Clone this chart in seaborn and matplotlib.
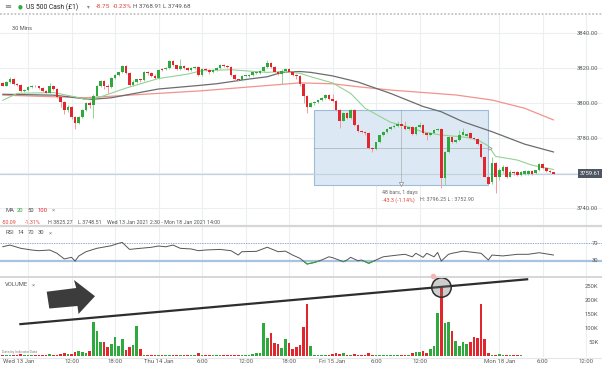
import numpy as np
import matplotlib
matplotlib.use("Agg")
import matplotlib.pyplot as plt
import seaborn as sns
from matplotlib.patches import Rectangle, Polygon
from matplotlib.lines import Line2D
from matplotlib.transforms import blended_transform_factory as blend

# ---------------- data (30-min bars; bar 0 = Wed 13 Jan 00:00, weekend removed) ----------------
bars = list(range(5, 158))

opens = [
    3811.5, 3810, 3812, 3814, 3811, 3810.5, 3807, 3807.5, 3809, 3810,
    3809.5, 3808.5, 3807, 3806, 3810, 3808, 3803.5, 3800.5, 3796, 3798,
    3792, 3788.5, 3792, 3796, 3800, 3799, 3804, 3810, 3812.5, 3810,
    3809, 3814.5, 3816, 3817.5, 3821, 3817, 3810.5, 3812, 3813.5, 3813,
    3818, 3817, 3815.5, 3814.5, 3819.5, 3819.5, 3820, 3824, 3821.5, 3819.5,
    3821, 3820, 3819, 3820, 3820.5, 3816, 3819.5, 3819, 3817.5, 3819,
    3820, 3822, 3821, 3820.5, 3816, 3813.5, 3813, 3815.5, 3815.5, 3816,
    3817, 3817, 3818.5, 3820.5, 3823, 3820.5, 3818, 3816.5, 3818.5, 3819.5,
    3818, 3816, 3815.5, 3811, 3804, 3798, 3800, 3800.5, 3801.5, 3803,
    3804.5, 3802.5, 3801, 3796, 3790, 3794.5, 3791.5, 3796, 3787.5, 3784,
    3783.5, 3783, 3774.5, 3773.5, 3777.5, 3781.5, 3783.5, 3785, 3786.5, 3787,
    3788, 3787, 3785, 3786.5, 3782.5, 3786.5, 3787.5, 3783, 3781.5, 3783,
    3784.5, 3785, 3757, 3772, 3780.5, 3777.5, 3779, 3782, 3781, 3783,
    3780, 3779.5, 3776.5, 3769, 3758, 3755, 3766, 3758, 3761, 3763.5,
    3758, 3760.5, 3760.5, 3759, 3759.5, 3759.5, 3761, 3760, 3761.5, 3765,
    3763, 3761, 3760.3]
highs = [
    3812, 3812.5, 3815, 3814.5, 3811.5, 3811, 3808, 3809.5, 3810.5, 3810.5,
    3810, 3809, 3807.5, 3811.5, 3810.5, 3808.5, 3804, 3801, 3799, 3798.5,
    3792.5, 3792.5, 3796.5, 3800.5, 3801, 3805, 3810.5, 3813, 3813, 3811,
    3815, 3816.5, 3818, 3822, 3822, 3817.5, 3813, 3814, 3814, 3818.5,
    3818.5, 3817.5, 3816.5, 3819.5, 3820, 3820.5, 3824.5, 3824.5, 3822, 3825.27,
    3821.5, 3820.5, 3820.5, 3821, 3821, 3820, 3820, 3819.5, 3819.5, 3820.5,
    3822.5, 3822.5, 3821.5, 3821, 3816.5, 3814, 3816, 3816, 3816.5, 3818,
    3818, 3819, 3821, 3824.5, 3823.5, 3821, 3818.5, 3819.5, 3820, 3820,
    3818.5, 3816.5, 3816, 3811.5, 3804.5, 3800.5, 3801, 3802, 3803.5, 3805,
    3805, 3805, 3801.5, 3796.5, 3795, 3795, 3796.5, 3796.5, 3788, 3784.5,
    3784, 3783.5, 3775, 3778, 3782, 3784, 3785.5, 3787, 3788, 3790,
    3788.5, 3790, 3787, 3787, 3787, 3789, 3788, 3783.5, 3783.5, 3785,
    3786, 3785.5, 3772.5, 3781, 3781, 3779.5, 3784.5, 3785.5, 3783, 3783.5,
    3780.5, 3780, 3777, 3769.5, 3758.5, 3768.91, 3766.5, 3763, 3764.5, 3764,
    3761.5, 3761, 3761, 3761, 3761.5, 3761.5, 3761.5, 3762, 3765.5, 3765.5,
    3763.5, 3761.5, 3760.5]
lows = [
    3809.5, 3809.5, 3811.5, 3810.5, 3810, 3806.5, 3806.5, 3807, 3808.5, 3809,
    3808, 3806.5, 3805.5, 3805.5, 3807.5, 3803, 3798, 3793.5, 3795, 3791,
    3785, 3788, 3791.5, 3795.5, 3797, 3791.5, 3803.5, 3809, 3808, 3806,
    3808.5, 3813.5, 3815.5, 3817, 3816.5, 3810, 3810, 3811.5, 3812, 3812.5,
    3816, 3815, 3814, 3814, 3818.5, 3819, 3819.5, 3821, 3819, 3819,
    3819.5, 3818.5, 3818.5, 3819.5, 3815.5, 3815.5, 3818.5, 3816.5, 3817, 3818.5,
    3819.5, 3820.5, 3820, 3815.5, 3813, 3812.5, 3812.5, 3815, 3815, 3815.5,
    3816.5, 3816.5, 3818, 3820, 3820, 3817.5, 3816, 3811, 3818, 3817.5,
    3815.5, 3814, 3810, 3800, 3794.5, 3797.5, 3799, 3800, 3801, 3802.5,
    3802, 3800.5, 3795.5, 3786, 3789.5, 3791, 3791, 3787, 3783.5, 3783,
    3782, 3774, 3772, 3773, 3777, 3781, 3783, 3784.5, 3786, 3786.5,
    3786, 3784.5, 3784.5, 3782, 3782, 3786, 3782.5, 3779, 3781, 3782.5,
    3784, 3751.3, 3753, 3771.5, 3777, 3777, 3778.5, 3781.5, 3780.5, 3779.5,
    3779, 3776, 3768.5, 3757.5, 3752.9, 3754, 3748.51, 3756, 3760, 3757,
    3757.5, 3759, 3758.5, 3758.5, 3759, 3759, 3759, 3759.5, 3761, 3762.5,
    3760.5, 3760, 3759.3]
closes = [
    3810, 3812, 3814, 3811, 3810.5, 3807, 3807.5, 3809, 3810, 3809.5,
    3808.5, 3807, 3806, 3810, 3808, 3803.5, 3800.5, 3796, 3798, 3792,
    3788.5, 3792, 3796, 3800, 3799, 3804, 3810, 3812.5, 3810, 3809,
    3814.5, 3816, 3817.5, 3821, 3817, 3810.5, 3812, 3813.5, 3813, 3818,
    3817, 3815.5, 3814.5, 3819, 3819, 3820, 3824, 3821.5, 3819.5, 3821,
    3820, 3819, 3820, 3820.5, 3816, 3819.5, 3819, 3817.5, 3819, 3820,
    3822, 3821, 3820.5, 3816, 3813.5, 3813, 3815.5, 3815.5, 3816, 3817.5,
    3817.5, 3818.5, 3820.5, 3823, 3820.5, 3818, 3816.5, 3818.5, 3819.5, 3818,
    3816, 3815.5, 3811, 3804, 3798, 3800, 3800.5, 3801.5, 3803, 3804.5,
    3802.5, 3801, 3796, 3790, 3794.5, 3791.5, 3796, 3787.5, 3784, 3783.5,
    3783, 3774.5, 3773.5, 3777.5, 3781.5, 3783.5, 3785, 3786.5, 3787, 3788,
    3787, 3785, 3786.5, 3782.5, 3786.5, 3787.5, 3783, 3781.5, 3783, 3784.5,
    3785, 3757, 3772, 3780.5, 3777.5, 3779, 3782, 3783.5, 3782.5, 3780,
    3779.5, 3776.5, 3769, 3758, 3753.5, 3766, 3758, 3762, 3763.5, 3758,
    3760.5, 3760, 3759, 3760.5, 3761, 3761, 3759.5, 3761.5, 3765, 3763,
    3761, 3760.3, 3759.61]
volume_k = [
    5, 4, 6, 5, 3, 7, 4, 5, 6, 4,
    5, 6, 5, 7, 6, 6, 7, 12.6, 8, 9,
    16, 20, 16, 10, 18, 122, 90, 52, 52, 32,
    44, 70, 37, 61, 22, 34, 40, 109, 25, 5,
    3, 4, 5, 3, 6, 4, 5, 3, 4, 6,
    5, 4, 3, 5, 10, 4, 5, 3, 4, 5,
    4, 3, 5, 4, 6, 5, 4, 5, 6, 8,
    12, 12, 118, 67, 85, 46, 44, 31, 62, 46,
    26, 34, 40, 104, 187, 37, 5, 4, 5, 6,
    4, 8, 10, 9, 10, 5, 6, 7, 5, 4,
    5, 10, 6, 5, 6, 4, 5, 4, 5, 4,
    5, 6, 6, 12, 14, 15, 18, 12, 26, 37,
    157, 250, 118, 124, 92, 56, 37, 52, 44, 52,
    70, 64, 187, 61, 10, 6, 4, 7, 3, 5,
    4, 3, 4, 3, 0, 0, 0, 0, 0, 0,
    0, 0, 0]

ma20_bars = [5, 9, 19, 25, 28, 32, 39, 48, 56, 60, 68, 78, 82, 87, 90, 96, 101, 105, 112, 117,
             121, 126, 132, 136, 139, 141, 147, 151, 157]
ma20_vals = [3801.5, 3805.5, 3806, 3803.5, 3802, 3803.5, 3808.5, 3814, 3816.5, 3818.5, 3819, 3817.5,
             3818, 3817, 3815, 3811.5, 3805.5, 3797, 3789, 3786.3, 3783.5, 3781.7, 3780.6, 3779,
             3775.5, 3769.5, 3767.4, 3764.5, 3762]
ma50_bars = [5, 19, 23, 29, 35, 48, 59, 64, 73, 78, 82, 87, 90, 96, 103, 112, 121, 126, 132, 140, 149, 157]
ma50_vals = [3805, 3804.5, 3803.6, 3802, 3803, 3808, 3810, 3811, 3813.7, 3815, 3817.5, 3818, 3817.5,
             3815.5, 3812, 3805.5, 3798, 3795, 3789.3, 3783.6, 3776.5, 3772]
ma100_bars = [5, 28, 48, 60, 87, 96, 103, 112, 121, 130, 140, 149, 157]
ma100_vals = [3804.5, 3803, 3805.5, 3807, 3811.5, 3811, 3809.3, 3807.4, 3806, 3804.6, 3801.7, 3797, 3790.3]

rsi_bars = [5, 7, 10, 13, 15, 18, 20, 22, 24, 25, 26, 28, 31, 35, 37, 38, 40, 43, 46, 48, 50, 52, 54,
            57, 59, 61, 65, 68, 70, 71, 75, 78, 81, 83, 85, 87, 89, 91, 93, 95, 96, 99, 100, 101,
            103, 104, 106, 108, 110, 114, 116, 118, 119, 121, 122, 124, 125, 126, 128, 129, 132,
            135, 137, 139, 140, 143, 147, 150, 153, 157]
rsi_vals = [62, 66, 58.5, 54.6, 53, 54.6, 47, 34, 37.8, 29.3, 40.8, 50.7, 58.5, 64.5, 70, 72, 56,
            58.5, 60.8, 63.8, 62, 66, 58.5, 57, 53, 54.6, 56, 53, 43, 50.7, 51.5, 61, 50.7, 52, 43,
            35.5, 22.4, 26, 31.6, 39, 37, 27.7, 31.6, 37.8, 30, 31.6, 24, 31.6, 39, 43, 44.7, 39,
            47, 37.8, 47, 39, 49, 29.3, 44.7, 47, 52, 49, 47, 31.6, 43, 41, 44.7, 44.7, 48.4, 43]

price_ticks = [3740, 3760, 3780, 3800, 3820, 3840]
volume_ticks = [50, 100, 150, 200, 250]
time_tick_bars = [12, 24, 36, 48, 60, 72, 84, 96, 108, 120, 142, 154, 166]
time_tick_labels = ["", "12:00", "18:00", "Thu 14 Jan", "6:00", "12:00", "18:00",
                    "Fri 15 Jan", "6:00", "12:00", "Mon 18 Jan", "6:00", "12:00"]
first_label = "Wed 13 Jan"
last_price = 3759.61
measure_start, measure_end = 91, 139
measure_high, measure_low = 3796.25, 3752.90
trend_bars = [9.6, 150.0]
trend_vol = [115, 277]

# ---------------- style ----------------
sns.set_theme(style="white")
plt.rcParams["font.family"] = ["Roboto", "DejaVu Sans"]
GREEN, RED = "#2fa83e", "#e2262d"
GREEN_W, RED_W = "#8fd59a", "#f29a9d"
GRID = "#eceef1"
TXT = "#5a5a5a"

W, H = 602, 369
fig = plt.figure(figsize=(W / 100, H / 100), dpi=100)
fig.patch.set_facecolor("white")

def fx(px):
    return px / W

def fy(py):
    return 1 - py / H

ax_p = fig.add_axes([0, fy(225), 1, (225 - 15) / H])
ax_r = fig.add_axes([0, fy(277), 1, (277 - 227) / H])
ax_v = fig.add_axes([0, fy(357), 1, (357 - 278) / H])
XL = (15.5 / 3.625, 617.5 / 3.625)
for a in (ax_p, ax_r, ax_v):
    a.set_xlim(*XL)
    a.set_facecolor("white")
    for s in a.spines.values():
        s.set_visible(False)
    a.set_xticks([])
    a.set_yticks([])
    for tb in time_tick_bars:
        a.axvline(tb, color=GRID, lw=0.8, zorder=0)

ax_p.set_ylim(3730.29, 3850.29)
ax_r.set_ylim(-7.47, 107.5)
ax_v.set_ylim(-2.9, 281.3)

# price grid
for p in price_ticks:
    ax_p.axhline(p, color=GRID, lw=0.8, zorder=0)

tr_p = blend(ax_p.transAxes, ax_p.transData)
for p in price_ticks:
    if abs(p - last_price) < 5:
        continue  # hidden behind the last-price tag
    ax_p.text(0.994, p, f"{p:.2f}", transform=tr_p, ha="right", va="center", fontsize=4.2, color=TXT)

# measurement rectangle
ax_p.add_patch(Rectangle((measure_start, measure_low), measure_end - measure_start,
                         measure_high - measure_low, facecolor="#dce9f5", edgecolor="#9dbcdc",
                         lw=0.8, zorder=1))
mid_bar = (measure_start + measure_end) / 2
mid_p = (measure_high + measure_low) / 2
ax_p.plot([measure_start, measure_end], [mid_p, mid_p], ls=(0, (1.2, 1.2)), color="#888", lw=0.6, zorder=2)
ax_p.plot([mid_bar, mid_bar], [measure_low, measure_high], ls=(0, (1.2, 1.2)), color="#888", lw=0.6, zorder=2)
ax_p.plot([mid_bar], [measure_low + 1], marker="v", ms=3, mfc="white", mec="#888", mew=0.5, zorder=5)
ax_p.plot([measure_end + 0.5], [mid_p], marker=">", ms=2.5, mfc="white", mec="#888", mew=0.5, zorder=5)

# last price line
ax_p.axhline(last_price, color="#c3d2e2", lw=0.9, zorder=1)

# moving averages
sns.lineplot(x=ma100_bars, y=ma100_vals, ax=ax_p, color="#f2938c", linewidth=0.9, zorder=3)
sns.lineplot(x=ma50_bars, y=ma50_vals, ax=ax_p, color="#6c6c6c", linewidth=0.9, zorder=3)
sns.lineplot(x=ma20_bars, y=ma20_vals, ax=ax_p, color="#93d293", linewidth=0.8, zorder=3)

# candles
o = np.array(opens)
h = np.array(highs)
l = np.array(lows)
c = np.array(closes)
b = np.array(bars)
up = c >= o
ax_p.vlines(b, l, h, colors=np.where(up, GREEN_W, RED_W), lw=0.7, zorder=4)
ax_p.bar(b, np.maximum(np.abs(c - o), 0.4), bottom=np.minimum(o, c), width=0.72,
         color=np.where(up, GREEN, RED), linewidth=0, zorder=5)

ax_p.text(0.998, last_price, f"{last_price:.2f}", transform=tr_p, ha="right", va="center",
          fontsize=4.2, color="white",
          bbox=dict(boxstyle="square,pad=0.35", facecolor="#4d5862", edgecolor="none"), zorder=6)

# RSI
ax_r.axhline(70, color="#8fb0d6", lw=0.7, ls=(0, (1.5, 1)), zorder=1)
ax_r.axhline(30, color="#a9c3de", lw=1.6, zorder=1)
sns.lineplot(x=rsi_bars, y=rsi_vals, ax=ax_r, color="#555555", linewidth=0.7, zorder=3)
low_line, = ax_r.plot(rsi_bars, rsi_vals, color=GREEN, lw=0.8, zorder=4)
clip = Rectangle((XL[0], -20), XL[1] - XL[0], 50, transform=ax_r.transData, visible=False)
ax_r.add_patch(clip)
low_line.set_clip_path(clip)
tr_r = blend(ax_r.transAxes, ax_r.transData)
for lv in (70, 30):
    ax_r.text(0.994, lv, str(lv), transform=tr_r, ha="right", va="center", fontsize=4.2, color=TXT)

# Volume
vcol = np.where(up, GREEN, RED)
ax_v.bar(b, volume_k, width=0.72, color=vcol, linewidth=0, zorder=2)
tr_v = blend(ax_v.transAxes, ax_v.transData)
for vt in volume_ticks:
    ax_v.text(0.994, vt, f"{vt}K", transform=tr_v, ha="right", va="center", fontsize=4.2, color=TXT)
ax_v.plot(trend_bars, trend_vol, color="#2e2e2e", lw=1.6, zorder=4, solid_capstyle="butt")
imax = int(np.argmax(volume_k))
ax_v.plot([bars[imax]], [volume_k[imax]], marker="o", ms=14, mfc=(0.45, 0.45, 0.45, 0.35),
          mec="#2e2e2e", mew=1.1, zorder=5)

# x labels
tr_x = blend(ax_v.transData, ax_v.transAxes)
ax_v.text(bars[0], -0.055, first_label, transform=tr_x, ha="left", va="center", fontsize=4.3, color=TXT)
for tb, tl in zip(time_tick_bars, time_tick_labels):
    if tl:
        ax_v.text(tb, -0.055, tl, transform=tr_x, ha="center", va="center", fontsize=4.3, color=TXT)

# big arrow annotation
arrow_px = [(46.7, 291.7), (76.2, 288.0), (74.0, 280.0), (95.0, 296.2), (78.5, 314.0),
            (77.5, 306.0), (49.3, 308.5)]
fig.add_artist(Polygon([(fx(x), fy(y)) for x, y in arrow_px], closed=True,
                       transform=fig.transFigure, facecolor="#3c3c3c", edgecolor="none", zorder=10))

# separators
def hline(py, **kw):
    fig.add_artist(Line2D([0, 1], [fy(py), fy(py)], transform=fig.transFigure, **kw))

hline(14, color="#c4c4c4", lw=1.3, ls=(0, (1, 1)))
hline(225.7, color="#d6d6d6", lw=1.6)
hline(277.3, color="#d6d6d6", lw=1.4)
hline(357.5, color="#e6e6e6", lw=0.8)
fig.add_artist(Line2D([fx(433)], [fy(276)], transform=fig.transFigure, marker="o", ms=3,
                      mfc="#f6b5b0", mec="#f6b5b0", zorder=11))

# texts
def t(px, py, s, color=TXT, size=4.3, **kw):
    fig.text(fx(px), fy(py), s, color=color, fontsize=size, ha="left", va="center", **kw)

t(4, 7, "\u2261", color="#777", size=6)
t(18, 7, "\u25cf", color="#2fae3e", size=4)
t(26, 7, "US 500 Cash (\u00a31)", color="#222", size=4.9)
t(87, 7, "\u25be", color="#888", size=4)
t(96, 7, "-8.75", color="#e5453d", size=4.6)
t(113, 7, "-0.23%", color="#e5453d", size=4.6)
t(133, 7, "H 3768.91 L 3749.68", color="#555", size=4.5)
t(12, 29, "30 Mins", color="#555", size=4.1)

t(5, 210, "MA", color="#555", size=4.2)
t(17, 210, "20", color=GREEN, size=4.2)
t(27, 210, "50", color="#444", size=4.2)
t(38, 210, "100", color=RED, size=4.2)
t(52, 210, "\u00d7", color="#888", size=4.2)
t(2, 222, "-50.09", color="#e5453d", size=3.9)
t(25, 222, "-1.31%", color="#e5453d", size=3.9)
t(48, 222, "H 3825.27", color="#555", size=3.9)
t(78, 222, "L 3748.51", color="#555", size=3.9)
t(107, 222, "Wed 13 Jan 2021 2:30 - Mon 18 Jan 2021 14:00", color="#555", size=3.9)

t(5, 233, "RSI", color="#555", size=4.2)
t(18, 233, "14", color="#555", size=4.2)
t(28, 233, "70", color="#555", size=4.2)
t(38, 233, "30", color="#555", size=4.2)
t(49, 233, "\u00d7", color="#888", size=4.2)

t(5, 285, "VOLUME", color="#555", size=4.2)
t(32, 285, "\u00d7", color="#888", size=4.2)
t(2, 352, "Data by IndicatorData", color="#888", size=2.6)

t(382, 193, "48 bars, 1 days", color="#666", size=3.9)
t(382, 200, "-43.3 (-1.14%)", color="#e5453d", size=3.9)
t(420, 200, "H: 3796.25 L : 3752.90", color="#666", size=3.9)

fig.savefig("out.png", dpi=100, facecolor="white")
